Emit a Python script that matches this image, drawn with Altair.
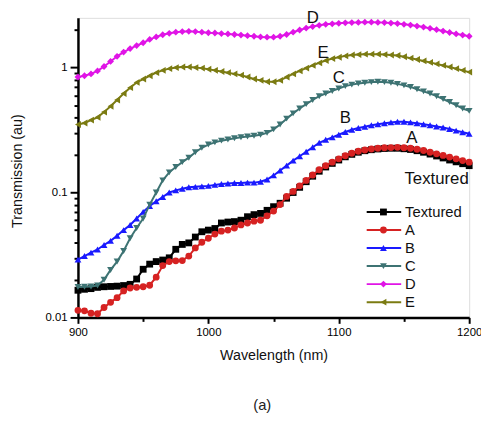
import altair as alt
import pandas as pd

wavelengths = list(range(900, 1201, 5))

textured = [0.0165, 0.0168, 0.0170, 0.0174, 0.0176, 0.0177, 0.0178, 0.0180, 0.0184, 0.0203,
            0.0243, 0.0267, 0.0280, 0.0288, 0.0300, 0.0351, 0.0384, 0.0395, 0.0440, 0.0485,
            0.0500, 0.0515, 0.0570, 0.0580, 0.0585, 0.0600, 0.0640, 0.0665, 0.0680, 0.0720,
            0.0770, 0.0820, 0.0900, 0.1000, 0.1100, 0.1220, 0.1350, 0.1480, 0.1600, 0.1710,
            0.1820, 0.1930, 0.2020, 0.2100, 0.2160, 0.2200, 0.2230, 0.2250, 0.2260, 0.2260,
            0.2240, 0.2210, 0.2160, 0.2100, 0.2030, 0.1960, 0.1890, 0.1820, 0.1760, 0.1700,
            0.1640]
series_a = [0.0114, 0.0113, 0.0108, 0.0107, 0.0120, 0.0132, 0.0144, 0.0163, 0.0172, 0.0174,
            0.0176, 0.0181, 0.0210, 0.0260, 0.0280, 0.0284, 0.0285, 0.0310, 0.0360, 0.0400,
            0.0430, 0.0465, 0.0490, 0.0500, 0.0520, 0.0550, 0.0570, 0.0590, 0.0600, 0.0650,
            0.0710, 0.0800, 0.0930, 0.1020, 0.1130, 0.1250, 0.1380, 0.1520, 0.1640, 0.1750,
            0.1860, 0.1970, 0.2060, 0.2140, 0.2190, 0.2230, 0.2260, 0.2280, 0.2290, 0.2300,
            0.2280, 0.2260, 0.2220, 0.2170, 0.2100, 0.2040, 0.1980, 0.1920, 0.1860, 0.1800,
            0.1750]
series_b = [0.029, 0.031, 0.033, 0.035, 0.038, 0.041, 0.045, 0.050, 0.055, 0.062,
            0.070, 0.078, 0.085, 0.092, 0.100, 0.104, 0.107, 0.110, 0.111, 0.112,
            0.113, 0.115, 0.117, 0.118, 0.119, 0.119, 0.120, 0.120, 0.122, 0.127,
            0.137, 0.150, 0.164, 0.180, 0.195, 0.212, 0.230, 0.250, 0.264, 0.276,
            0.290, 0.305, 0.318, 0.328, 0.336, 0.345, 0.352, 0.358, 0.364, 0.368,
            0.368, 0.364, 0.358, 0.352, 0.345, 0.338, 0.331, 0.322, 0.313, 0.304,
            0.295]
series_c = [0.0175, 0.0176, 0.0177, 0.0180, 0.020, 0.024, 0.028, 0.034, 0.043, 0.052,
            0.062, 0.080, 0.100, 0.125, 0.145, 0.160, 0.175, 0.190, 0.210, 0.228,
            0.242, 0.252, 0.260, 0.266, 0.272, 0.277, 0.281, 0.285, 0.290, 0.300,
            0.320, 0.350, 0.390, 0.430, 0.470, 0.510, 0.550, 0.590, 0.620, 0.650,
            0.680, 0.710, 0.730, 0.745, 0.755, 0.765, 0.770, 0.765, 0.755, 0.740,
            0.720, 0.700, 0.670, 0.645, 0.620, 0.590, 0.560, 0.530, 0.500, 0.470,
            0.450]
series_d = [0.84, 0.86, 0.89, 0.94, 1.02, 1.12, 1.23, 1.33, 1.42, 1.50,
            1.58, 1.68, 1.76, 1.83, 1.88, 1.92, 1.94, 1.95, 1.94, 1.92,
            1.90, 1.89, 1.87, 1.86, 1.84, 1.82, 1.80, 1.78, 1.76, 1.75,
            1.75, 1.78, 1.84, 1.92, 2.00, 2.07, 2.13, 2.18, 2.22, 2.24,
            2.26, 2.28, 2.29, 2.30, 2.31, 2.31, 2.30, 2.29, 2.27, 2.25,
            2.22, 2.19, 2.15, 2.11, 2.06, 2.01, 1.96, 1.91, 1.86, 1.82,
            1.78]
series_e = [0.35, 0.36, 0.38, 0.40, 0.44, 0.49, 0.55, 0.62, 0.69, 0.76,
            0.81, 0.86, 0.91, 0.95, 0.98, 1.00, 1.01, 1.01, 1.00, 0.99,
            0.97, 0.95, 0.93, 0.91, 0.89, 0.87, 0.84, 0.81, 0.79, 0.77,
            0.77, 0.79, 0.84, 0.89, 0.94, 0.99, 1.04, 1.09, 1.14, 1.18,
            1.21, 1.24, 1.26, 1.27, 1.28, 1.28, 1.28, 1.27, 1.26, 1.25,
            1.22, 1.19, 1.16, 1.13, 1.10, 1.07, 1.04, 1.01, 0.98, 0.95,
            0.92]

series_names = ["Textured", "A", "B", "C", "D", "E"]
series_values = [textured, series_a, series_b, series_c, series_d, series_e]
series_colors = ["#000000", "#d62222", "#1a1aff", "#3d7373", "#e014e6", "#7b7b12"]
series_shapes = ["square", "circle", "triangle-up", "triangle-down", "diamond", "triangle-left"]

# curve annotations (data coordinates)
label_text = ["D", "E", "C", "B", "A", "Textured"]
label_x = [1080, 1088, 1100, 1105, 1156, 1175]
label_y = [2.5, 1.31, 0.82, 0.395, 0.275, 0.128]

x_ticks = [900, 950, 1000, 1050, 1100, 1150, 1200]
y_ticks = [0.01, 0.02, 0.03, 0.04, 0.05, 0.06, 0.07, 0.08, 0.09,
           0.1, 0.2, 0.3, 0.4, 0.5, 0.6, 0.7, 0.8, 0.9, 1, 2]

FONT = "Liberation Sans"

xscale = alt.Scale(domain=[900, 1200], nice=False, zero=False)
yscale = alt.Scale(type="log", domain=[0.01, 2.5], nice=False)

xaxis = alt.Axis(
    values=x_ticks,
    labelExpr="datum.value % 100 == 0 ? format(datum.value, 'd') : ''",
    title="Wavelength (nm)", titleFont=FONT, titleFontSize=14.5, titleFontWeight="normal",
    titleY=39, titleBaseline="middle", titleColor="#111",
    labelFont=FONT, labelFontSize=11.5, labelColor="#000", labelPadding=3,
    domainColor="#000", domainWidth=2.5, tickColor="#000", tickWidth=2,
    tickSize={"condition": {"test": "datum.value % 100 == 0", "value": 6}, "value": 4},
    grid=False, labelFlush=False,
)
yaxis = alt.Axis(
    values=y_ticks,
    labelExpr="datum.value == 0.01 ? '0.01' : (datum.value == 0.1 ? '0.1' : (datum.value == 1 ? '1' : ''))",
    title="Transmission (au)", titleFont=FONT, titleFontSize=14.5, titleFontWeight="normal",
    titleX=-54, titleY=155, titleAngle=-90, titleBaseline="bottom", titleAlign="center",
    titleColor="#111",
    labelFont=FONT, labelFontSize=11.5, labelColor="#000", labelPadding=3,
    domainColor="#000", domainWidth=2.5, tickColor="#000", tickWidth=2,
    tickSize={"condition": {"test": "datum.value == 0.01 || datum.value == 0.1 || datum.value == 1",
                            "value": 8}, "value": 4},
    grid=False, labelFlush=False,
)

layers = []
for i, (name, vals) in enumerate(zip(series_names, series_values)):
    df = pd.DataFrame({"wl": wavelengths, "val": vals, "series": name})
    base = alt.Chart(df)
    enc = dict(
        x=alt.X("wl:Q", scale=xscale, axis=xaxis),
        y=alt.Y("val:Q", scale=yscale, axis=yaxis),
    )
    layers.append(base.mark_line(color=series_colors[i], strokeWidth=2).encode(**enc))
    layers.append(base.mark_point(color=series_colors[i], filled=True, opacity=1,
                                  shape=series_shapes[i], size=48).encode(**enc))

lab_df = pd.DataFrame({"t": label_text, "x": label_x, "y": label_y})
labels = alt.Chart(lab_df).mark_text(font=FONT, fontSize=17, color="#111",
                                     baseline="middle", align="center").encode(
    x=alt.X("x:Q", scale=xscale, axis=xaxis),
    y=alt.Y("y:Q", scale=yscale, axis=yaxis),
    text="t:N",
)

# legend (layout in pixels)
leg_df = pd.DataFrame({"series": series_names, "row": list(range(len(series_names)))})
leg_base = alt.Chart(leg_df).transform_calculate(py="197 + datum.row * 18.3")
cscale = alt.Scale(domain=series_names, range=series_colors)
sscale = alt.Scale(domain=series_names, range=series_shapes)
leg_lines = leg_base.mark_rule(strokeWidth=2).encode(
    x=alt.value(293), x2=alt.value(328),
    y=alt.Y("py:Q", scale=None),
    color=alt.Color("series:N", scale=cscale, legend=None),
)
leg_pts = leg_base.mark_point(filled=True, opacity=1, size=48).encode(
    x=alt.value(310),
    y=alt.Y("py:Q", scale=None),
    color=alt.Color("series:N", scale=cscale, legend=None),
    shape=alt.Shape("series:N", scale=sscale, legend=None),
)
leg_text = leg_base.mark_text(font=FONT, fontSize=15, align="left", baseline="middle",
                              color="#111").encode(
    x=alt.value(332),
    y=alt.Y("py:Q", scale=None),
    text="series:N",
)

caption = alt.Chart(pd.DataFrame({"t": ["(a)"]})).mark_text(
    font=FONT, fontSize=15, color="#222", align="center", baseline="middle"
).encode(x=alt.value(187), y=alt.value(393), text="t:N")

chart = alt.layer(*layers, labels, leg_lines, leg_pts, leg_text, caption).properties(
    width=397, height=304,
    autosize=alt.AutoSizeParams(type="none"),
    padding={"left": 71, "top": 7, "right": 12, "bottom": 95},
).configure_view(stroke=None).configure(background="white")

chart.save("out.html", embed_options={"renderer": "svg", "actions": False})
